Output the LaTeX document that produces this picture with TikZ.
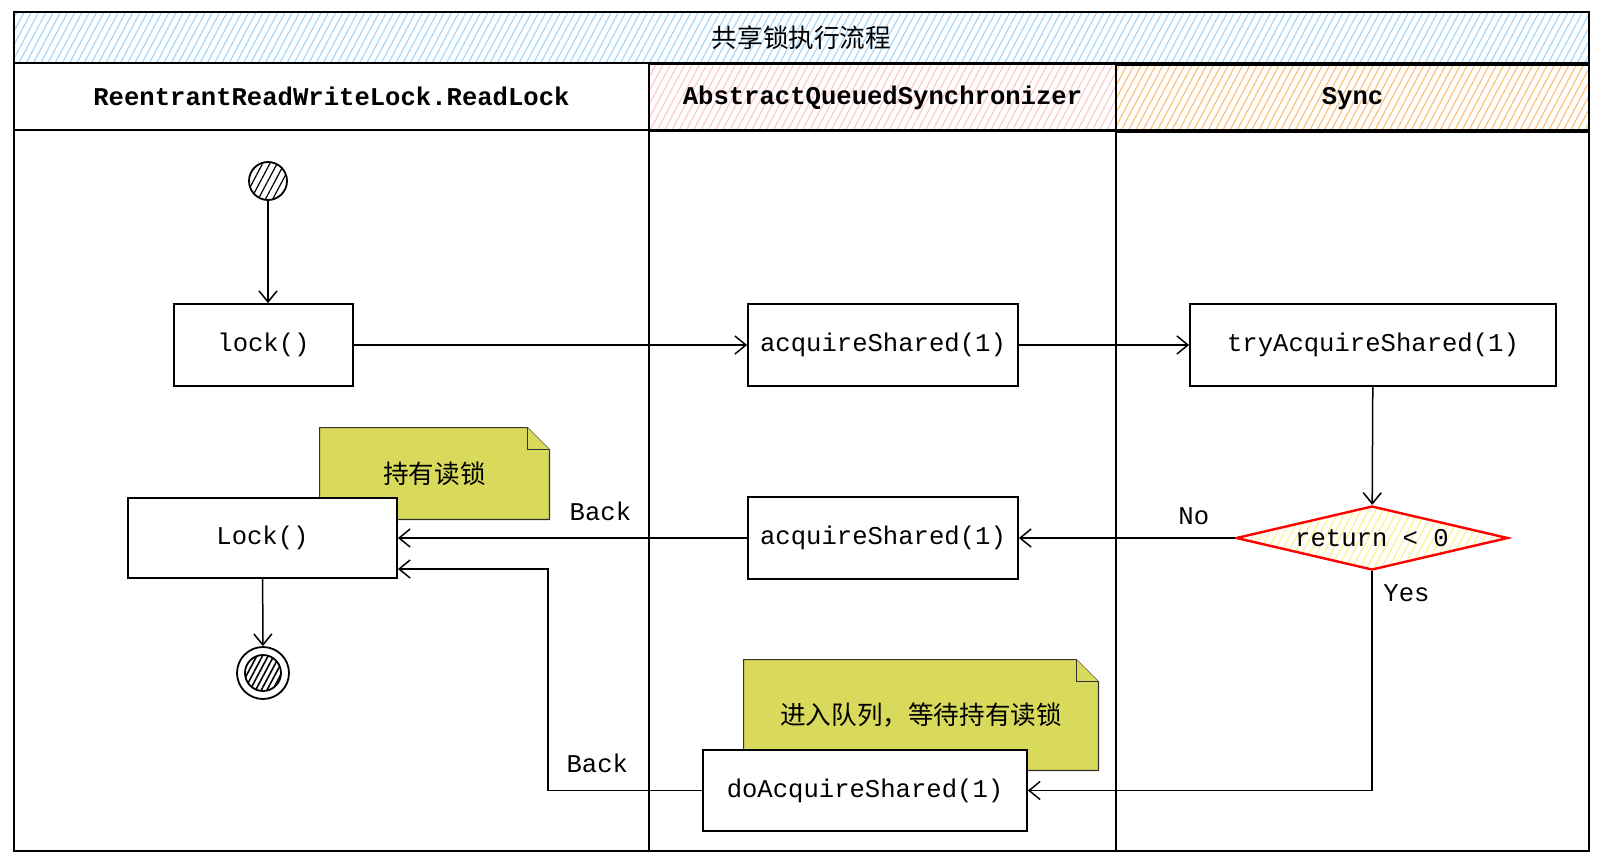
\documentclass[tikz,border=0pt]{standalone}
\usepackage{fontspec}
\setmonofont{Liberation Mono}
\newfontfamily\cjk{Noto Sans CJK SC}
\usetikzlibrary{shapes.geometric, arrows.meta, patterns.meta, backgrounds}
\definecolor{hatchblue}{HTML}{A5D8FF}
\definecolor{hatchpink}{HTML}{FFC9C9}
\definecolor{hatchorange}{HTML}{FFC078}
\definecolor{hatchyellow}{HTML}{FFF08A}
\definecolor{notefill}{HTML}{D9D95B}
\newcommand{\boxfont}{\fontsize{12.8}{15}\selectfont}
\tikzset{
    hatched/.style = {pattern={Lines[angle=62, distance=3.2pt, line width=0.6pt]}, pattern color=#1},
    lanehead/.style = {draw, line width=1pt, minimum height=33.5pt, font=\boxfont\ttfamily\bfseries},
    method/.style = {draw, line width=0.9pt, fill=white, minimum height=41pt, font=\boxfont\ttfamily},
    decision/.style = {diamond, draw=red, line width=1.2pt, hatched=hatchyellow, inner sep=0pt, aspect=4.25,
        minimum width=136pt, minimum height=32pt, font=\boxfont\ttfamily},
    notebox/.style = {font=\boxfont\cjk},
    notepaper/.style = {draw=black!80, line width=0.6pt, fill=notefill},
    flow/.style = {draw, line width=0.75pt, -{Straight Barb[length=5.5pt, width=9pt]}},
    guard/.style = {font=\boxfont\ttfamily},
}
\begin{document}
\begin{tikzpicture}[x=0.5pt, y=-0.5pt]
    \begin{scope}[on background layer]
        \fill[white] (0,0) rectangle (1604,862);
    \end{scope}
    \useasboundingbox (0,0) rectangle (1604,862);

    % swimlanes
    \node[draw, line width=1pt, hatched=hatchblue, minimum width=787.5pt, minimum height=25.5pt, font=\boxfont\cjk]
        (title) at (801.5,37.5) {共享锁执行流程};
    \node[lanehead, fill=white, minimum width=317.5pt] (rrwl) at (331.5,96.5) {ReentrantReadWriteLock.ReadLock};
    \node[lanehead, hatched=hatchpink, minimum width=233.5pt] (aqs) at (882.5,97.5) {AbstractQueuedSynchronizer};
    \node[lanehead, hatched=hatchorange, minimum width=236.5pt] (sync) at (1352.5,98.5) {Sync};
    \draw[line width=1pt] (14,130) rectangle (1589,851);
    \draw[line width=1pt] (649,130) -- (649,851);
    \draw[line width=1pt] (1116,130) -- (1116,851);

    % notes
    \node[notebox, minimum width=114.5pt, minimum height=45.5pt] (hold) at (434.5,473.5) {持有读锁};
    \node[notebox, minimum width=177pt, minimum height=55pt] (queue) at (921,715) {进入队列，等待持有读锁};
    \begin{scope}[on background layer]
        \draw[notepaper] (hold.south west) -- (hold.north west) -- ([xshift=-11pt]hold.north east)
            -- ([yshift=-11pt]hold.north east) -- (hold.south east) -- cycle;
        \draw[notepaper] ([xshift=-11pt]hold.north east) -- ([xshift=-11pt, yshift=-11pt]hold.north east)
            -- ([yshift=-11pt]hold.north east);
        \draw[notepaper] (queue.south west) -- (queue.north west) -- ([xshift=-11pt]queue.north east)
            -- ([yshift=-11pt]queue.north east) -- (queue.south east) -- cycle;
        \draw[notepaper] ([xshift=-11pt]queue.north east) -- ([xshift=-11pt, yshift=-11pt]queue.north east)
            -- ([yshift=-11pt]queue.north east);
    \end{scope}

    % states
    \node[draw, circle, line width=0.9pt, minimum size=19pt, hatched=black] (start) at (268,181) {};
    \node[draw, circle, line width=0.9pt, minimum size=26pt] (finish) at (263,673) {};
    \draw[line width=0.9pt, pattern={Lines[angle=62, distance=2.5pt, line width=0.8pt]}] (finish) circle (9pt);

    \node[method, minimum width=89.5pt] (lock) at (263.5,345) {lock()};
    \node[method, minimum width=135pt] (acq1) at (883,345) {acquireShared(1)};
    \node[method, minimum width=183pt] (tryacq) at (1373,345) {tryAcquireShared(1)};
    \node[decision] (ret) at (1372,538) {return < 0};
    \node[method, minimum width=135pt] (acq2) at (883,538) {acquireShared(1)};
    \node[method, minimum width=134.5pt, minimum height=40pt] (lockup) at (262.5,538) {Lock()};
    \node[method, minimum width=162pt, minimum height=40.5pt] (doacq) at (865,790.5) {doAcquireShared(1)};

    \coordinate (turn) at (548,569);

    \draw[flow] (start) -- (start |- lock.north);
    \draw[flow] (lock) -- (acq1);
    \draw[flow] (acq1) -- (tryacq);
    \draw[flow] (tryacq) -- (ret);
    \draw[flow] (ret) -- node[guard, above=3pt, pos=0.19] {No} (acq2);
    \draw[flow] (acq2) -- node[guard, above=5pt, pos=0.42] {Back} (lockup);
    \draw[flow] (ret.south) |- node[guard, right=2pt, pos=0.05] {Yes} (doacq.east);
    \draw[flow] (doacq.west) -| node[guard, above=5pt, pos=0.34] {Back} (turn) -- (lockup.east |- turn);
    \draw[flow] (lockup) -- (finish);
\end{tikzpicture}
\end{document}
